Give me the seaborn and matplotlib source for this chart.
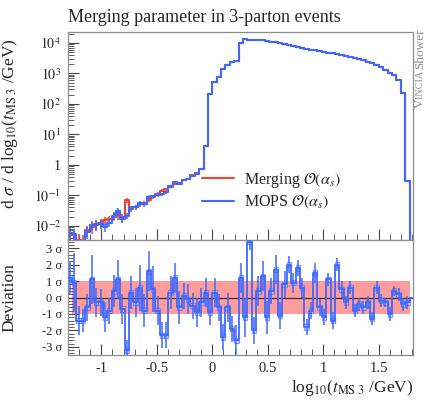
import matplotlib
matplotlib.use("Agg")
import matplotlib.pyplot as plt
import matplotlib.ticker as mticker
import numpy as np
import pandas as pd
import seaborn as sns

# binning in log10(t_MS3 / GeV)
bin_width = 0.0395
first_edge = -1.3035

# cross section per bin below the merging cut (33 bins, up to 0)
merging_low = [0.0050, 0.0050, 0.0035, 0.0032, 0.0071, 0.0089, 0.0112, 0.0126,
               0.0151, 0.0166, 0.020, 0.0219, 0.0191, 0.068, 0.0355, 0.0417,
               0.050, 0.056, 0.071, 0.089, 0.112, 0.141, 0.158, 0.19,
               0.24, 0.25, 0.32, 0.355, 0.45, 0.54, 0.72, 4.3, 210]
mops_low = [0.0056, 0.0054, 0.0025, 0.0022, 0.0063, 0.0105, 0.0107, 0.0117,
            0.0089, 0.0126, 0.0214, 0.030, 0.0166, 0.0214, 0.038, 0.040,
            0.054, 0.050, 0.089, 0.093, 0.102, 0.107, 0.126, 0.20,
            0.27, 0.24, 0.32, 0.355, 0.44, 0.50, 0.71, 4.3, 210]
# above the cut both curves coincide on the log scale (45 bins + empty bin)
high = [540, 780, 1450, 1900, 2300, 2600, 10000, 13200, 13000, 12800,
        12500, 12100, 11600, 11000, 10400, 9800, 9100, 8500, 7800, 7200,
        6800, 6400, 6000, 5700, 5400, 5100, 4850, 4600, 4350, 4050,
        3800, 3500, 3200, 2950, 2700, 2450, 2200, 1900, 1600, 1300,
        1070, 890, 610, 225, 0.3, 0]
low_rel_err = [0.45, 0.45, 0.5, 0.5, 0.4, 0.38, 0.35, 0.33, 0.32, 0.3, 0.28,
               0.27, 0.28, 0.2, 0.2, 0.18, 0.17, 0.16, 0.15, 0.14, 0.13, 0.12,
               0.11, 0.1, 0.09, 0.09, 0.08, 0.08, 0.07, 0.07, 0.06]

# MOPS vs Merging deviation in units of sigma (78 bins + empty bin)
deviation = [1.2, 0.9, -1.4, -1.4, -0.6, 1.1, -0.3, -0.3, -1.2, -0.8, 0.4, 1.1,
             -0.7, -3.2, 0.3, -0.3, 0.6, -0.8, 1.6, 0.5, -0.8, -2.3, -2.3, 0.3,
             1.2, -0.6, 0.1, -0.1, -0.5, -0.9, -0.3, 0.3, -0.9, 0.3, -0.6, -2.4,
             -0.6, -1.9, -2.6, 1.2, -1.2, 3.4, -2.0, 0.4, 1.3, -1.2, 0.4, 1.7,
             -1.1, 0.8, 2.0, 0.9, 1.8, 0.6, -1.8, -0.8, 1.5, -0.6, -1.2, 1.1,
             -1.4, 2.0, 0.5, -0.3, 0.6, -0.8, -0.4, -0.6, -0.3, -1.3, 0.6, -0.2,
             -0.3, -1.0, 0.4, 0.2, -0.4, -0.3, 0.0]
dev_err = [1.0, 1.8, 0.9, 0.7, 0.8, 1.5, 0.9, 0.8, 0.9, 0.8, 1.0, 1.2, 0.9, 0.6,
           1.0, 0.9, 1.4, 1.0, 1.2, 1.4, 0.9, 0.8, 0.8, 1.0, 0.9, 1.0, 0.8, 0.9,
           0.8, 0.9, 0.9, 0.9, 0.8, 0.9, 0.8, 0.8, 0.9, 0.8, 0.9, 0.9, 1.2, 0.5,
           0.8, 0.9, 0.9, 1.0, 0.8, 0.9, 0.8, 0.8, 0.5, 0.6, 0.5, 0.6, 0.5, 0.5,
           0.6, 0.5, 0.5, 0.4, 0.5, 0.4, 0.5, 0.4, 0.4, 0.4, 0.4, 0.4, 0.4, 0.4,
           0.4, 0.4, 0.3, 0.4, 0.3, 0.4, 0.4, 0.4]

x_ticks = [-1, -0.5, 0, 0.5, 1, 1.5]
x_tick_labels = ["-1", "-0.5", "0", "0.5", "1", "1.5"]
sigma_ticks = [-3, -2, -1, 0, 1, 2, 3]

RED = "#ee4530"
BLUE = "#3f68ff"
BAND = "#ff9c9c"
FRAME = "#8c8c8c"

sns.set_style("ticks")
plt.rcParams["font.family"] = ["Liberation Serif", "DejaVu Serif"]
plt.rcParams["mathtext.fontset"] = "stix"

merging = np.array(merging_low + high, dtype=float)
mops = np.array(mops_low + high, dtype=float)
edges = first_edge + bin_width * np.arange(len(merging) + 1)
centers = 0.5 * (edges[:-1] + edges[1:])
n_low = len(low_rel_err)
main_df = pd.DataFrame({"x": centers, "Merging": merging, "MOPS": mops})

fig = plt.figure(figsize=(4.31, 4.01), dpi=100)
ax = fig.add_axes([0.158, 0.4015, 0.8005, 0.5187])
axr = fig.add_axes([0.158, 0.1147, 0.8005, 0.2868], sharex=ax)

# ---- main panel
ax.set_yscale("log")
for col, color, label in [("Merging", RED, r"Merging $\mathcal{O}(\alpha_s)$"),
                          ("MOPS", BLUE, r"MOPS $\mathcal{O}(\alpha_s)$")]:
    sns.histplot(data=main_df, x="x", weights=col, bins=list(edges), element="step",
                 fill=False, color=color, linewidth=1.5, label=label, ax=ax)
    vals = main_df[col].to_numpy()
    err = vals[:n_low] * np.array(low_rel_err)
    ax.errorbar(centers[:n_low], vals[:n_low], yerr=err, fmt="none",
                ecolor=color, elinewidth=1.1)

ax.set_xlim(-1.3, 1.81)
ax.set_ylim(3.4e-3, 2.3e4)
ax.yaxis.set_major_locator(mticker.LogLocator(base=10, numticks=20))
ax.yaxis.set_minor_locator(mticker.LogLocator(base=10, subs=np.arange(2, 10), numticks=20))
ax.yaxis.set_major_formatter(mticker.FuncFormatter(
    lambda v, p: "1" if abs(v - 1) < 1e-9 else r"$10^{%d}$" % round(np.log10(v))))
ax.yaxis.set_minor_formatter(mticker.NullFormatter())
ax.set_ylabel(r"d $\sigma$ / d log$_{10}$($t_{\mathrm{MS}\ 3}$ /GeV)", fontsize=12.5)
ax.yaxis.set_label_coords(-0.138, 0.56)
ax.set_title("Merging parameter in 3-parton events", loc="left", fontsize=13, pad=7)
ax.legend(loc="center left", bbox_to_anchor=(0.37, 0.235), frameon=False,
          fontsize=11.5, handlelength=2.0, handletextpad=0.6, labelspacing=0.25,
          borderaxespad=0)
ax.tick_params(labelbottom=False)

# ---- deviation panel
dev = np.array(deviation, dtype=float)
dev_edges = first_edge + bin_width * np.arange(len(dev) + 1)
dev_centers = 0.5 * (dev_edges[:-1] + dev_edges[1:])
dev_df = pd.DataFrame({"x": dev_centers, "dev": dev})
n_dev = len(dev_err)
axr.fill_between([edges[1], edges[len(merging) - 1]], -1, 1, color=BAND, lw=0, zorder=0)
axr.axhline(0, color="#333333", lw=0.9, zorder=1)
axr.bar(dev_centers[:n_dev], 0.32, bottom=dev[:n_dev] - 0.16, width=bin_width,
        color="#b4c6ff", alpha=0.6, edgecolor=BLUE, linewidth=0.9, zorder=2)
axr.vlines(dev_centers[:n_dev], dev[:n_dev] - np.array(dev_err),
           dev[:n_dev] + np.array(dev_err), color=BLUE, lw=1.1, zorder=3)
sns.histplot(data=dev_df, x="x", weights="dev", bins=list(dev_edges), element="step",
             fill=False, color=BLUE, linewidth=1.3, ax=axr, zorder=4)
axr.set_ylim(-3.5, 3.5)
axr.set_yticks(sigma_ticks)
axr.set_yticklabels(["%d σ" % v for v in sigma_ticks])
axr.yaxis.set_minor_locator(mticker.MultipleLocator(0.2))
axr.set_xticks(x_ticks)
axr.set_xticklabels(x_tick_labels)
axr.xaxis.set_minor_locator(mticker.MultipleLocator(0.1))
axr.set_ylabel("Deviation", fontsize=12.5)
axr.yaxis.set_label_coords(-0.148, 0.5)
axr.set_xlabel(r"log$_{10}$($t_{\mathrm{MS}\ 3}$ /GeV)", fontsize=12.5, ha="right")
axr.xaxis.set_label_coords(1.0, -0.2)

for a in (ax, axr):
    for s in a.spines.values():
        s.set_color(FRAME)
        s.set_linewidth(0.9)
    a.tick_params(which="both", direction="in", top=False, right=False,
                  color="#444444", labelsize=10, pad=5)
    a.tick_params(which="major", length=8, width=0.8)
    a.tick_params(which="minor", length=4, width=0.6)
axr.tick_params(axis="x", labelsize=10.5)
axr.tick_params(axis="y", labelsize=9, pad=4)

# ---- rotated small-caps "Vincia Shower" label
renderer = fig.canvas.get_renderer()
x0 = 0.982
y_top = 0.93
pieces = [("Shower", 9.5), ("INCIA ", 7.3), ("V", 9.5)]
y = y_top
for txt, size in pieces:
    t = fig.text(x0, y, txt, rotation=90, rotation_mode="anchor", ha="right",
                 va="baseline", fontsize=size, color="#8c8c8c")
    bb = t.get_window_extent(renderer=renderer)
    y -= bb.height / fig.bbox.height

fig.savefig("out.png", dpi=100)
